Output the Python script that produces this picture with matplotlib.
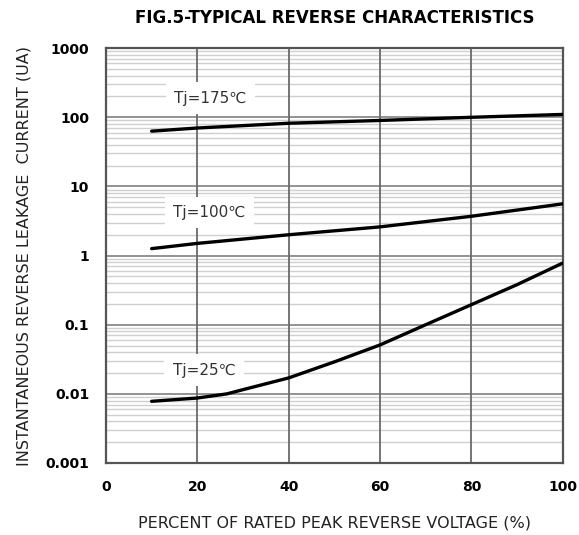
import matplotlib
matplotlib.use('Agg')
import matplotlib.pyplot as plt
from matplotlib.ticker import LogLocator, FixedLocator, NullFormatter

# percent of rated peak reverse voltage
pct_175 = [10, 20, 40, 60, 80, 100]
ir_175 = [63, 70, 82, 90, 100, 110]

pct_100 = [10, 20, 40, 60, 80, 100]
ir_100 = [1.26, 1.5, 2.0, 2.6, 3.7, 5.6]

pct_25 = [10, 20, 26.5, 30, 40, 50, 60, 70, 80, 90, 100]
ir_25 = [0.0078, 0.0087, 0.010, 0.0115, 0.017, 0.029, 0.051, 0.10, 0.195, 0.38, 0.78]

x_ticks = [0, 20, 40, 60, 80, 100]
y_ticks = [0.001, 0.01, 0.1, 1, 10, 100, 1000]
y_tick_labels = ['0.001', '0.01', '0.1', '1', '10', '100', '1000']

labels = ['Tj=175\u2103', 'Tj=100\u2103', 'Tj=25\u2103']
label_pos = [(22.8, 190), (22.6, 4.2), (21.5, 0.022)]

fig = plt.figure(figsize=(5.79, 5.35), dpi=100)
ax = fig.add_axes([0.183, 0.1346, 0.789, 0.7754])

ax.set_yscale('log')
ax.set_xlim(0, 100)
ax.set_ylim(0.001, 1000)

ax.yaxis.set_major_locator(FixedLocator(y_ticks))
ax.set_yticklabels(y_tick_labels)
ax.yaxis.set_minor_locator(LogLocator(base=10, subs=range(2, 10), numticks=20))
ax.yaxis.set_minor_formatter(NullFormatter())
ax.xaxis.set_major_locator(FixedLocator(x_ticks))

ax.grid(which='minor', axis='y', color='#d0d0d0', lw=1.0, zorder=0.5)
ax.grid(which='major', axis='y', color='#8a8a8a', lw=1.3, zorder=0.6)
ax.set_axisbelow(True)
# vertical grid drawn over the horizontal ones
for xv in x_ticks[1:-1]:
    ax.axvline(xv, color='#6a6a6a', lw=1.3, zorder=1)

ax.tick_params(which='both', length=0, pad=12)
for t in ax.get_xticklabels() + ax.get_yticklabels():
    t.set_fontweight('bold')
    t.set_fontsize(10)

for s in ax.spines.values():
    s.set_color('#555555')
    s.set_linewidth(1.6)

for px, iy in [(pct_175, ir_175), (pct_100, ir_100), (pct_25, ir_25)]:
    ax.plot(px, iy, color='black', lw=2.4, solid_capstyle='round', zorder=3)

for txt, (lx, ly) in zip(labels, label_pos):
    ax.text(lx, ly, txt, ha='center', va='center', fontsize=11, color='#333333',
            bbox=dict(facecolor='white', edgecolor='none', pad=6), zorder=4)

fig.text(0.579, 0.966, 'FIG.5-TYPICAL REVERSE CHARACTERISTICS', ha='center', va='center',
         fontsize=12, fontweight='bold')
ax.set_xlabel('PERCENT OF RATED PEAK REVERSE VOLTAGE (%)', fontsize=11.5, labelpad=16, color='#222222')
ax.set_ylabel('INSTANTANEOUS REVERSE LEAKAGE  CURRENT (UA)', fontsize=11.5, labelpad=10, color='#222222')

fig.savefig('out.png', dpi=100)
